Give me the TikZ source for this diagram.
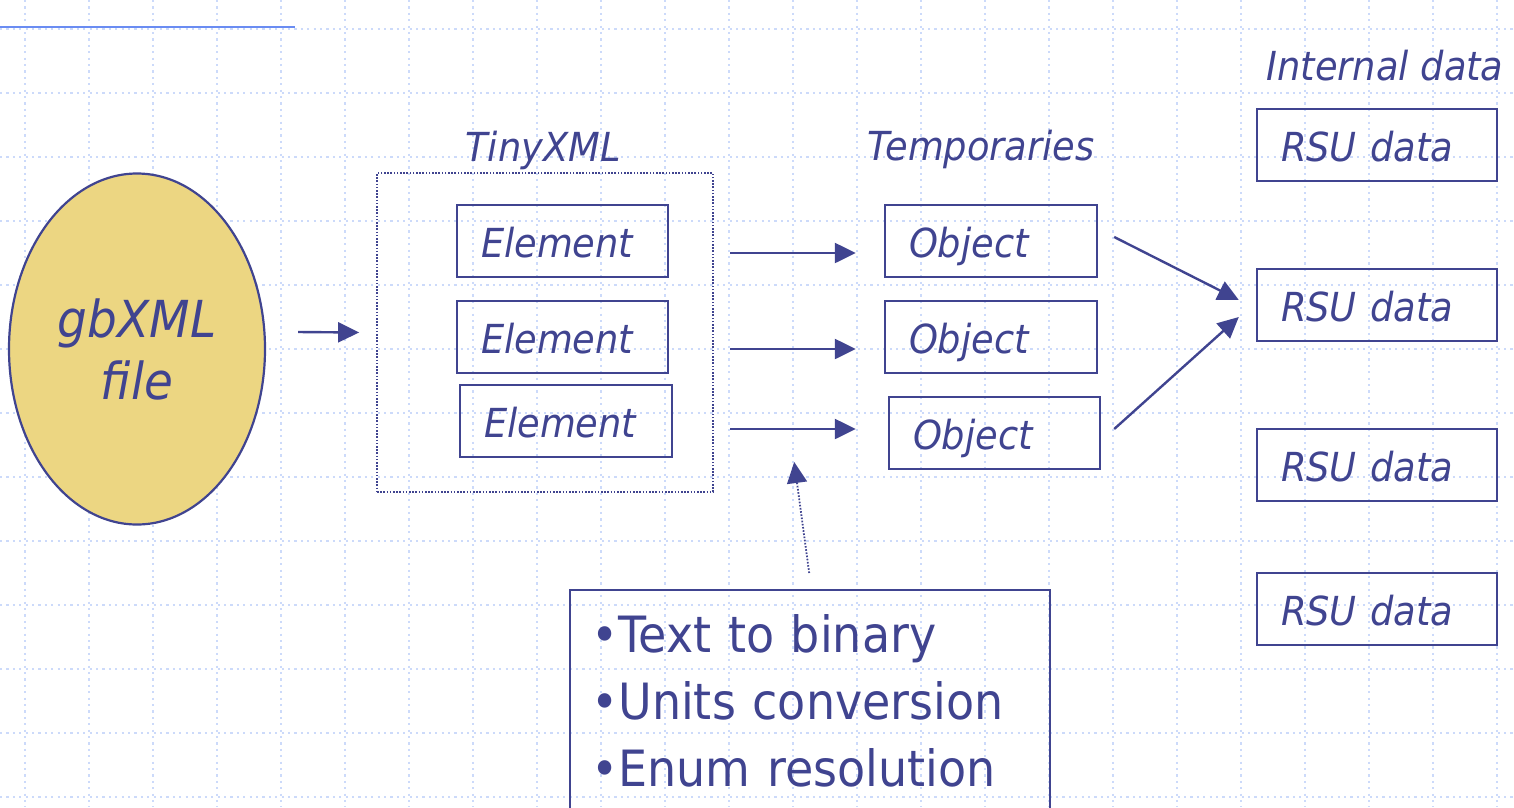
\documentclass[tikz,border=0pt]{standalone}
\usepackage{fontspec}
\setmainfont{DejaVu Sans}[FakeStretch=0.92]
\usetikzlibrary{arrows.meta,calc,shapes.geometric}
\definecolor{ink}{RGB}{64,68,144}
\definecolor{gridc}{RGB}{204,218,250}
\definecolor{topline}{RGB}{106,140,242}
\definecolor{ellfill}{RGB}{236,214,130}
\tikzset{
  gridline/.style={gridc,line width=1.6pt,dash pattern=on 2.2pt off 4.2pt},
  boxnode/.style={draw=ink,line width=2.4pt,text=ink,inner xsep=24pt,inner ysep=0pt,
     minimum height=72pt,text height=32pt,text depth=0pt,align=left,
     font=\fontsize{40}{48}\selectfont\itshape},
  lbl/.style={text=ink,anchor=base,inner sep=0pt,font=\fontsize{40}{48}\selectfont\itshape},
  conn/.style={draw=ink,line width=2.4pt,-{Triangle[length=21pt,width=20pt]}},
}
\begin{document}
\begin{tikzpicture}[x=1pt,y=-1pt]
\useasboundingbox (0,0) rectangle (1514,807);
% grid
\foreach \k in {0,...,23} \draw[gridline] ({25+64*\k},0) -- ({25+64*\k},807);
\foreach \k in {0,...,12} \draw[gridline] (0,{29+64*\k}) -- (1514,{29+64*\k});
\draw[topline,line width=2.4pt] (0,27) -- (295,27);

% ellipse
\node[ellipse,draw=ink,line width=2.2pt,fill=ellfill,minimum width=256pt,minimum height=351pt,
  inner sep=0pt,text=ink,align=center,font=\fontsize{51}{62}\selectfont\itshape]
  (gb) at (137,349) {gbXML\\file};

% TinyXML container
\node[draw=ink,line width=1.8pt,dash pattern=on 1.6pt off 1.6pt,minimum width=336pt,
  minimum height=319pt,inner sep=0pt] (tiny) at (545,332.5) {};
\node[lbl] (tinylbl) at (543,161) {TinyXML};
\node[lbl] (templbl) at (981,160) {Temporaries};
\node[lbl] (intlbl) at (1385,80) {Internal data};

% Elements
\node[boxnode,text width=163pt] (e1) at (562.5,241) {Element};
\node[boxnode,text width=163pt] (e2) at (562.5,337) {Element};
\node[boxnode,text width=164pt] (e3) at (566,421) {Element};

% Objects
\node[boxnode,text width=164pt] (o1) at (991,241) {Object};
\node[boxnode,text width=164pt] (o2) at (991,337) {Object};
\node[boxnode,text width=163pt] (o3) at (994.5,433) {Object};

% RSU data
\node[boxnode,text width=192pt] (r1) at (1377,145) {RSU data};
\node[boxnode,text width=192pt] (r2) at (1377,305) {RSU data};
\node[boxnode,text width=192pt] (r3) at (1377,465) {RSU data};
\node[boxnode,text width=192pt] (r4) at (1377,609) {RSU data};

% bullet box
\node[draw=ink,line width=2.4pt,text=ink,anchor=north west,inner xsep=21pt,inner ysep=24pt,
  text width=438pt,align=left,font=\fontsize{50}{67}\selectfont] (bl) at (569,589)
  {•Text to binary\\•Units conversion\\•Enum resolution\\ };

% connectors
\draw[conn] ($(gb.east)+(32,-17)$) -- ($(tiny.west)+(-17,0)$);
\draw[conn] ($(e1.east)+(61,12)$) -- ($(o1.west)+(-28,12)$);
\draw[conn] ($(e2.east)+(61,12)$) -- ($(o2.west)+(-28,12)$);
\draw[conn] ($(e3.east)+(57,8)$) -- ($(o3.west)+(-32,-4)$);
\draw[conn] ($(o1.east)+(16,-4)$) -- ($(r2.west)+(-17,-5)$);
\draw[conn] ($(o3.east)+(13,-4)$) -- ($(r2.west)+(-17,12)$);
\draw[draw=ink,line width=1.8pt,dash pattern=on 1.6pt off 1.6pt,
  -{Triangle[length=21pt,width=20pt]}] ($(bl.north)+(-1,-16)$) -- ($(bl.north)+(-16,-127)$);
\end{tikzpicture}
\end{document}
